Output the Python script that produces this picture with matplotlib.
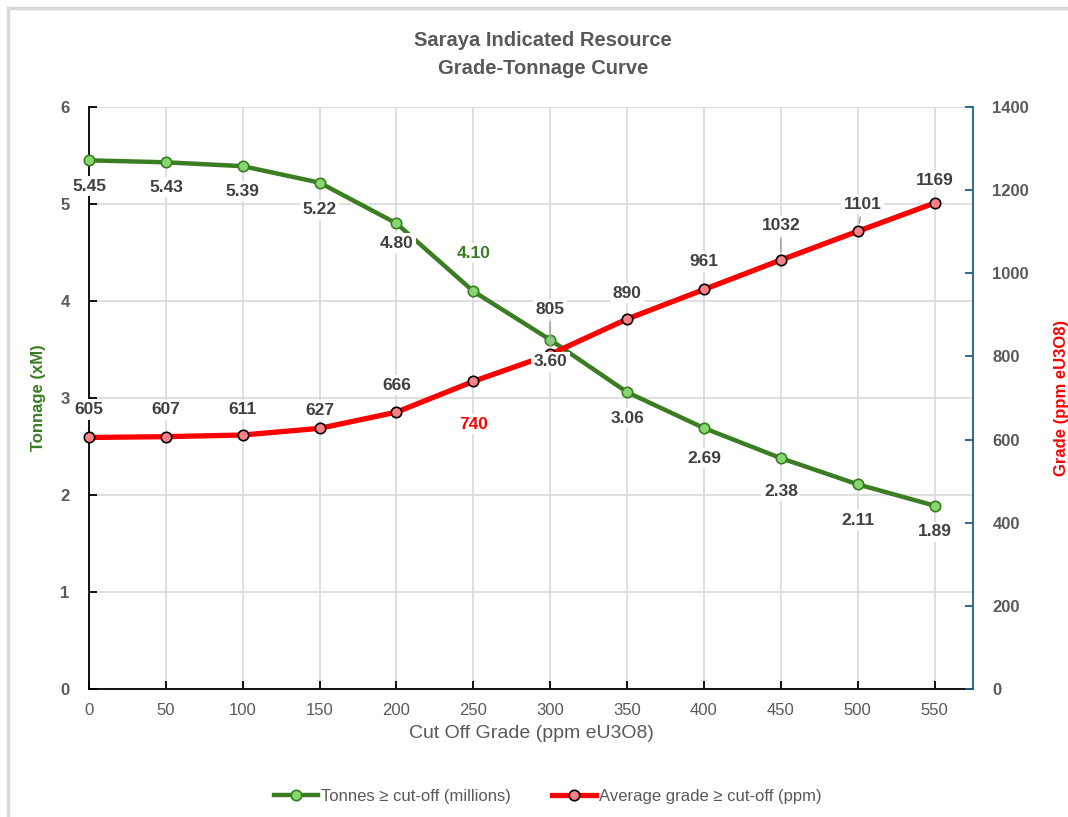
import matplotlib.pyplot as plt
from matplotlib.lines import Line2D

plt.rcParams['font.family'] = ['Liberation Sans', 'DejaVu Sans']

# data
cutoff = [0, 50, 100, 150, 200, 250, 300, 350, 400, 450, 500, 550]
tonnes = [5.45, 5.43, 5.39, 5.22, 4.80, 4.10, 3.60, 3.06, 2.69, 2.38, 2.11, 1.89]
grade = [605, 607, 611, 627, 666, 740, 805, 890, 961, 1032, 1101, 1169]

# label offsets (pixels) for each data label
t_off = [-26, -25, -25, -27, -20, 38, -22, -26, -30, -33, -36, -26]
g_off = [28, 27, 25, 18, 27, -43, 45, 26, 28, 34, 27, 23]
g_dx = [0, 0, 0, 0, 0, 0, 0, 0, 0, 0, 5, 0]
g_leader = [False] * 6 + [True, False, False, True, True, False]

green = '#3a7d22'
green_fill = '#84d86e'
red = '#ff0000'
red_fill = '#ff7f86'
grey = '#595959'
dark = '#404040'

fig = plt.figure(figsize=(10.68, 8.17), dpi=100)
ax = fig.add_axes([89 / 1068, 128 / 817, 884 / 1068, 582 / 817])
ax2 = ax.twinx()

# figure border (top and left visible)
fig.add_artist(Line2D([8 / 1068, 1], [1 - 8 / 817] * 2, color='#d9d9d9', lw=2.5))
fig.add_artist(Line2D([8 / 1068] * 2, [0, 1 - 8 / 817], color='#d9d9d9', lw=2.5))

ax.plot(cutoff, tonnes, color=green, lw=3.2, marker='o', ms=7.5,
        mfc=green_fill, mec=green, mew=1.2, zorder=4, clip_on=False,
        label='Tonnes ≥ cut-off (millions)')
ax2.plot(cutoff, grade, color=red, lw=3.8, marker='o', ms=7.5,
         mfc=red_fill, mec='black', mew=1.2, zorder=4, clip_on=False,
         label='Average grade ≥ cut-off (ppm)')

ax.set_xlim(0, 575)
ax.set_ylim(0, 6)
ax2.set_ylim(0, 1400)
ax.set_xticks(cutoff)
ax.set_yticks(range(0, 7))
ax2.set_yticks(range(0, 1401, 200))

ax.grid(True, color='#d9d9d9', lw=1.2)
ax.set_axisbelow(True)
for s in ['top', 'right']:
    ax.spines[s].set_visible(False)
ax2.spines['top'].set_visible(False)
ax2.spines['left'].set_visible(False)
ax2.spines['bottom'].set_visible(False)
ax.spines['left'].set_color('black')
ax.spines['bottom'].set_color('black')
ax.spines['left'].set_linewidth(1.3)
ax.spines['bottom'].set_linewidth(1.3)
ax2.spines['right'].set_color('#1f5f8b')
ax2.spines['right'].set_linewidth(1.3)

ax.tick_params(axis='y', direction='in', length=6, width=1.3, colors='black',
               labelcolor=grey, labelsize=12, pad=14)
ax.tick_params(axis='x', direction='in', length=6, width=1.3, colors='black',
               labelcolor=grey, labelsize=12, pad=10)
ax2.tick_params(axis='y', direction='in', length=6, width=1.3, colors='#1f5f8b',
                labelcolor=grey, labelsize=12, pad=14)
for lab in ax.get_yticklabels() + ax2.get_yticklabels():
    lab.set_fontweight('bold')

ax.set_xlabel('Cut Off Grade (ppm eU3O8)', color=grey, fontsize=14, labelpad=5)
ax.set_ylabel('Tonnage (xM)', color=green, fontsize=12, fontweight='bold', labelpad=10)
ax2.set_ylabel('Grade (ppm eU3O8)', color=red, fontsize=12, fontweight='bold', labelpad=18)

fig.text(543 / 1068, 1 - 40 / 817, 'Saraya Indicated Resource', ha='center', va='center',
         fontsize=14.5, fontweight='bold', color=grey)
fig.text(543 / 1068, 1 - 68 / 817, 'Grade-Tonnage Curve', ha='center', va='center',
         fontsize=14.5, fontweight='bold', color=grey)

# all labels on ax2 so they sit above both lines
box = dict(boxstyle='square,pad=0.15', fc='white', ec='none')
for i, (x, t) in enumerate(zip(cutoff, tonnes)):
    col = green if t == 4.10 else dark
    ax2.annotate(f'{t:.2f}', (x, t), xycoords=ax.transData, xytext=(0, t_off[i]),
                 textcoords='offset pixels', ha='center', va='center', fontsize=12.5,
                 fontweight='bold', color=col, bbox=box, zorder=6)
for i, (x, g) in enumerate(zip(cutoff, grade)):
    col = red if g == 740 else dark
    arrow = dict(arrowstyle='-', color='#a6a6a6', lw=1.2, shrinkA=2, shrinkB=6) if g_leader[i] else None
    ax2.annotate(f'{g}', (x, g), xytext=(g_dx[i], g_off[i]), textcoords='offset pixels',
                 ha='center', va='center', fontsize=12.5, fontweight='bold', color=col,
                 bbox=box, zorder=6, arrowprops=arrow)

h1, l1 = ax.get_legend_handles_labels()
h2, l2 = ax2.get_legend_handles_labels()
fig.legend(h1 + h2, l1 + l2, loc='center', bbox_to_anchor=(548 / 1068, 1 - 796 / 817),
           ncol=2, frameon=False, fontsize=12, labelcolor=grey, handlelength=2.6,
           handletextpad=0.2, columnspacing=2.5)

plt.savefig('out.png', dpi=100)
